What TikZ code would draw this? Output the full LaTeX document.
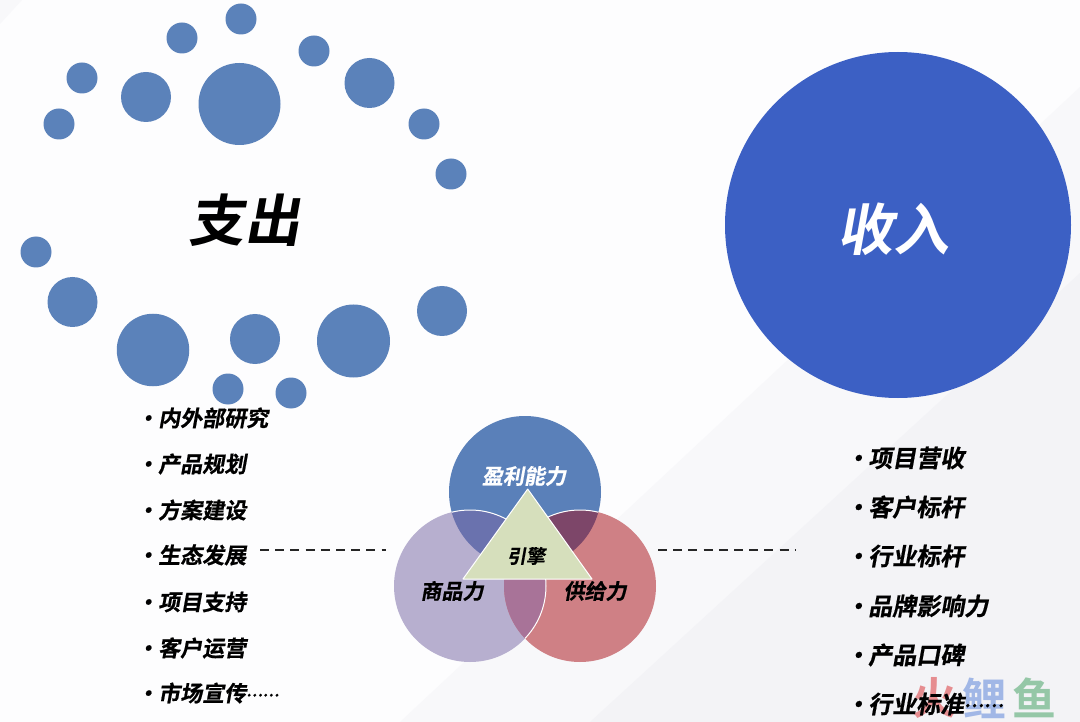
\documentclass[tikz,border=0pt]{standalone}
\usepackage{fontspec}
\setmainfont{Noto Sans CJK SC}
\newfontfamily\cjkslant[FakeSlant=0.18,BoldFont={Noto Sans CJK SC Bold},BoldFeatures={FakeSlant=0.18}]{Noto Sans CJK SC}
\newfontfamily\cjkheavy[FakeSlant=0.18,FakeBold=0.6]{Noto Sans CJK SC Bold}
\newfontfamily\cjkbold{Noto Sans CJK SC Bold}
\definecolor{pagebg}{HTML}{FDFDFE}
\definecolor{bandone}{HTML}{F8F8FA}
\definecolor{bandtwo}{HTML}{F3F3F6}
\definecolor{dotblue}{HTML}{5B82BA}
\definecolor{bigblue}{HTML}{3C60C4}
\definecolor{vtop}{HTML}{5A80B9}
\definecolor{vleft}{HTML}{B7AFCF}
\definecolor{vright}{HTML}{CF8085}
\definecolor{vtl}{HTML}{6A72AE}
\definecolor{vtr}{HTML}{7D4669}
\definecolor{vlr}{HTML}{A87398}
\definecolor{tri}{HTML}{D6DFBC}
\definecolor{wmred}{HTML}{F29496}
\definecolor{wmblue}{HTML}{A9C1EF}
\definecolor{wmgreen}{HTML}{9DD1AE}
\newcommand{\bulL}[1]{\makebox[22pt][l]{•}#1}
\newcommand{\bulR}[1]{\makebox[23pt][l]{·}#1}
\tikzset{
  dot/.style={circle,fill=dotblue,draw=none,inner sep=0pt},
  vcirc/.style={circle,draw=none,inner sep=0pt,minimum size=152pt},
  listl/.style={anchor=west,inner sep=0pt,font=\cjkheavy\fontsize{22}{24}\selectfont,text=black},
  listr/.style={anchor=west,inner sep=0pt,font=\cjkheavy\fontsize{24}{26}\selectfont,text=black},
  vlabel/.style={inner sep=0pt,font=\cjkheavy\fontsize{21}{23}\selectfont},
  title/.style={inner sep=0pt,font=\cjkslant\bfseries\fontsize{56}{60}\selectfont},
  dashline/.style={draw=black!85,line width=1.5pt,dash pattern=on 9pt off 6.2pt},
  wm/.style={inner sep=0pt,font=\cjkbold\fontsize{44}{46}\selectfont}
}
\begin{document}
\begin{tikzpicture}[x=1pt,y=-1pt]
\useasboundingbox (0,0) rectangle (1080,722);
\fill[pagebg] (0,0) rectangle (1080,722);
\fill[bandone] (0,0) -- (22,0) -- (0,24) -- cycle;
\fill[bandone] (1080,87) -- (400,722) -- (1080,722) -- cycle;
\fill[bandtwo] (1080,273) -- (590,722) -- (1080,722) -- cycle;
% dots
\node[dot,minimum size=31pt] (d1) at (59,124) {};
\node[dot,minimum size=31pt] (d2) at (82,78) {};
\node[dot,minimum size=50pt] (d3) at (146,97) {};
\node[dot,minimum size=31pt] (d4) at (182,38) {};
\node[dot,minimum size=31pt] (d5) at (241,19) {};
\node[dot,minimum size=82pt] (d6) at (239.5,104) {};
\node[dot,minimum size=31pt] (d7) at (314,51) {};
\node[dot,minimum size=50pt] (d8) at (369.5,83) {};
\node[dot,minimum size=31pt] (d9) at (424,124) {};
\node[dot,minimum size=31pt] (d10) at (451,174) {};
\node[dot,minimum size=31pt] (d11) at (36,252) {};
\node[dot,minimum size=50pt] (d12) at (72.5,302) {};
\node[dot,minimum size=72.5pt] (d13) at (153,350) {};
\node[dot,minimum size=50pt] (d14) at (255,339) {};
\node[dot,minimum size=31pt] (d15) at (228,389) {};
\node[dot,minimum size=31pt] (d16) at (291,393) {};
\node[dot,minimum size=73pt] (d17) at (353.5,341) {};
\node[dot,minimum size=50pt] (d18) at (442,311) {};
\node[title,text=black] (zc) at (244,220) {支出};
% income
\node[circle,fill=bigblue,draw=none,inner sep=0pt,minimum size=346pt] (inc) at (898,225) {};
\node[title,text=white] (sr) at (893,229) {收入};
% venn
\node[vcirc,fill=vtop] (vt) at (525,492) {};
\node[vcirc,fill=vleft] (vl) at (470,586) {};
\node[vcirc,fill=vright] (vr) at (580,586) {};
\begin{scope}
\clip (525,492) circle (76);
\fill[vtl] (470,586) circle (76);
\draw[white,line width=1pt] (470,586) circle (76);
\end{scope}
\begin{scope}
\clip (525,492) circle (76);
\fill[vtr] (580,586) circle (76);
\draw[white,line width=1pt] (580,586) circle (76);
\end{scope}
\begin{scope}
\clip (470,586) circle (76);
\fill[vlr] (580,586) circle (76);
\end{scope}
\begin{scope}
\clip (580,586) circle (76);
\draw[white,line width=1pt] (470,586) circle (76);
\end{scope}
\fill[tri,draw=white,line width=1pt,line join=round] (527.7,489) -- (463,579) -- (592,579) -- cycle;
\node[vlabel,text=white] (yl) at (524,476) {盈利能力};
\node[vlabel,text=black] (sp) at (452,591) {商品力};
\node[vlabel,text=black] (gj) at (595,591) {供给力};
\node[inner sep=0pt,font=\cjkheavy\fontsize{19}{21}\selectfont] (yq) at (526,556) {引擎};
% left list
\node[listl] (l1) at (136,418) {\bulL{内外部研究}};
\node[listl] (l2) at (136,464) {\bulL{产品规划}};
\node[listl] (l3) at (136,510) {\bulL{方案建设}};
\node[listl] (l4) at (136,555) {\bulL{生态发展}};
\node[listl] (l5) at (136,602) {\bulL{项目支持}};
\node[listl] (l6) at (136,648) {\bulL{客户运营}};
\node[listl] (l7) at (136,693) {\bulL{市场宣传\raisebox{5pt}{\fontsize{15}{16}\selectfont ……}}};
% right list
\node[listr] (r1) at (845,458) {\bulR{项目营收}};
\node[listr] (r2) at (845,507) {\bulR{客户标杆}};
\node[listr] (r3) at (845,556) {\bulR{行业标杆}};
\node[listr] (r4) at (845,606) {\bulR{品牌影响力}};
\node[listr] (r5) at (845,655) {\bulR{产品口碑}};
\node[listr] (r6) at (845,704) {\bulR{行业标准\raisebox{6pt}{\fontsize{18}{19}\selectfont ……}}};
% dashed
\coordinate (a1) at (260,550);
\coordinate (a2) at (386,550);
\coordinate (b1) at (658,550);
\coordinate (b2) at (796,550);
\draw[dashline] (a1) -- (a2);
\draw[dashline] (b1) -- (b2);
% watermark
\begin{scope}[blend mode=multiply]
\node[wm,text=wmred] (w1) at (934,698) {火};
\node[wm,text=wmblue] (w2) at (984,698) {鲤};
\node[wm,text=wmgreen] (w3) at (1034,698) {鱼};
\end{scope}
\end{tikzpicture}
\end{document}
